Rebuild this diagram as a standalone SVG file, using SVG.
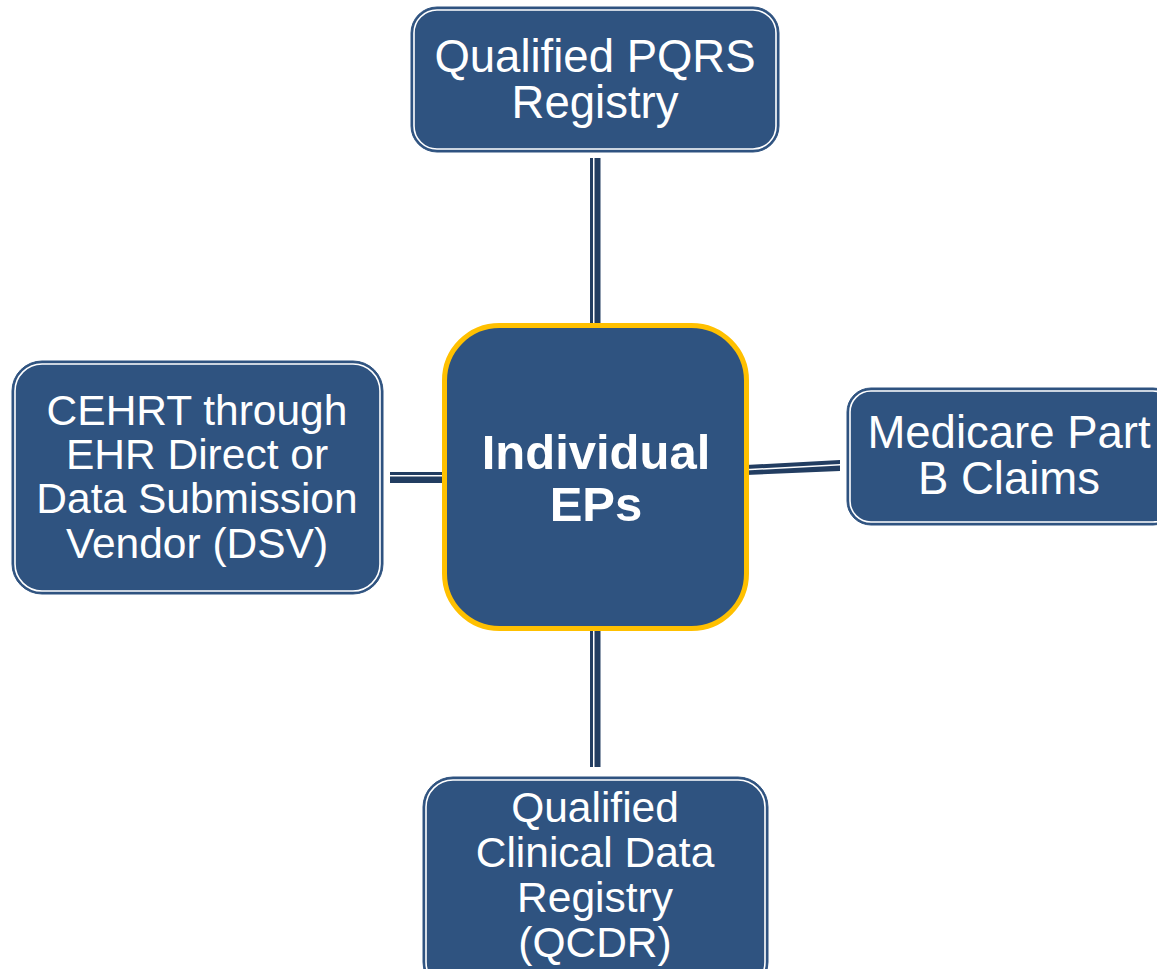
<svg xmlns="http://www.w3.org/2000/svg" width="1157" height="969" viewBox="0 0 1157 969">
<style>
.outer{fill:#2f5380;stroke:#2f5380;stroke-width:1}
.inner{fill:#2f5380;stroke:#ffffff;stroke-width:1.6}
.lbl{font-family:"Liberation Sans",Arial,sans-serif;font-size:45.5px;fill:#ffffff;text-anchor:middle}
.sm{font-size:42.5px}
.hub{font-family:"Liberation Sans",Arial,sans-serif;font-size:49px;font-weight:bold;fill:#ffffff;text-anchor:middle}
.dk{fill:#223d61}
</style>
<rect width="1157" height="969" fill="#ffffff"/>
<g id="connectors">
  <rect class="dk" x="590" y="158" width="3" height="170"/>
  <rect class="dk" x="594.5" y="158" width="6" height="170"/>
  <rect class="dk" x="590" y="627" width="3" height="140"/>
  <rect class="dk" x="594.5" y="627" width="6" height="140"/>
  <rect class="dk" x="390" y="472" width="56" height="3"/>
  <rect class="dk" x="390" y="476.5" width="56" height="6.5"/>
  <polygon class="dk" points="746,465 840,460 840,464 746,469"/>
  <polygon class="dk" points="746,470.5 840,465.5 840,471 746,475"/>
</g>
<g id="node-top">
  <rect class="outer" x="411" y="7" width="368" height="145" rx="26"/>
  <rect class="inner" x="414" y="10" width="362" height="139" rx="23"/>
  <text class="lbl" x="595" y="72">Qualified PQRS</text>
  <text class="lbl" x="595" y="118">Registry</text>
</g>
<g id="node-left">
  <rect class="outer" x="12" y="361" width="371" height="233" rx="30"/>
  <rect class="inner" x="15" y="364" width="365" height="227" rx="27"/>
  <text class="lbl sm" x="197" y="425">CEHRT through</text>
  <text class="lbl sm" x="197" y="469">EHR Direct or</text>
  <text class="lbl sm" x="197" y="513">Data Submission</text>
  <text class="lbl sm" x="197" y="558">Vendor (DSV)</text>
</g>
<g id="node-right">
  <rect class="outer" x="847" y="388" width="330" height="137" rx="24"/>
  <rect class="inner" x="850" y="391" width="324" height="131" rx="21"/>
  <text class="lbl" x="1009" y="448">Medicare Part</text>
  <text class="lbl" x="1009" y="494">B Claims</text>
</g>
<g id="node-bottom">
  <rect class="outer" x="423" y="777" width="345" height="215" rx="30"/>
  <rect class="inner" x="426" y="780" width="339" height="209" rx="27"/>
  <text class="lbl sm" x="595" y="822">Qualified</text>
  <text class="lbl sm" x="595" y="867">Clinical Data</text>
  <text class="lbl sm" x="595" y="912">Registry</text>
  <text class="lbl sm" x="595" y="957">(QCDR)</text>
</g>
<g id="node-center">
  <rect x="444.5" y="325.5" width="302" height="303" rx="55" fill="#2f5380" stroke="#ffc000" stroke-width="5"/>
  <text class="hub" x="596" y="469">Individual</text>
  <text class="hub" x="596" y="521">EPs</text>
</g>
</svg>
